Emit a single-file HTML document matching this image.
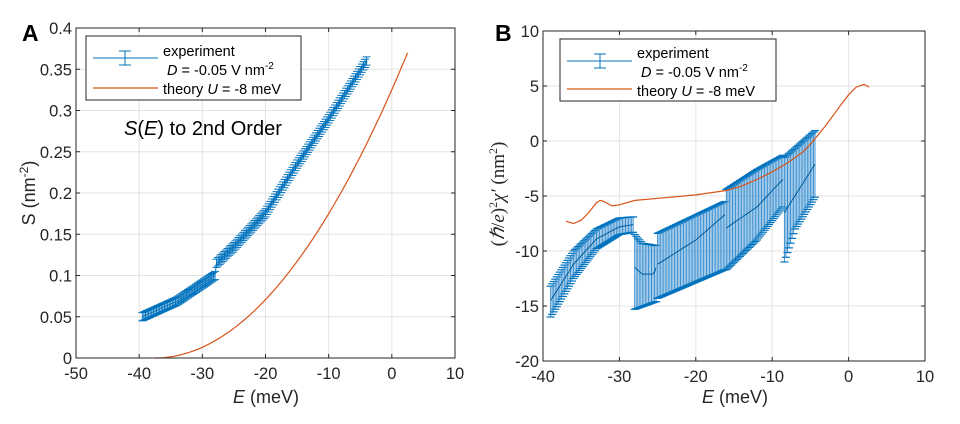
<!DOCTYPE html>
<html><head><meta charset="utf-8"><style>
body{margin:0;background:#fff}
svg{display:block;font-family:"Liberation Sans",sans-serif}
</style></head><body>
<svg id="s" width="960" height="424" xmlns="http://www.w3.org/2000/svg">
<rect width="960" height="424" fill="#fff"/>
<g id="A"></g><g id="B"></g>
</svg>
<script>
const NS="http://www.w3.org/2000/svg";
function el(p,t,a,txt){const e=document.createElementNS(NS,t);for(const k in a)e.setAttribute(k,a[k]);if(txt!==undefined)e.textContent=txt;p.appendChild(e);return e;}
function interp(pts,x){for(let i=0;i<pts.length-1;i++){if(x>=pts[i][0]&&x<=pts[i+1][0]){const t=(x-pts[i][0])/(pts[i+1][0]-pts[i][0]);return pts[i][1]+t*(pts[i+1][1]-pts[i][1]);}}return pts[pts.length-1][1];}
function axes(g,L,R,T,Bt,x0,x1,xs,y0,y1,ys){
 const X=v=>L+(v-x0)/(x1-x0)*(R-L), Y=v=>Bt-(v-y0)/(y1-y0)*(Bt-T);
 for(let v=x0;v<=x1+1e-9;v+=xs){el(g,'line',{x1:X(v),x2:X(v),y1:T,y2:Bt,stroke:'#e3e3e3','stroke-width':1});}
 for(let v=y0;v<=y1+1e-9;v+=ys){el(g,'line',{x1:L,x2:R,y1:Y(v),y2:Y(v),stroke:'#e3e3e3','stroke-width':1});}
 return {X,Y};
}
function frame(g,L,R,T,Bt,x0,x1,xs,y0,y1,ys,X,Y,fmt){
 el(g,'rect',{x:L,y:T,width:R-L,height:Bt-T,fill:'none',stroke:'#262626','stroke-width':1});
 for(let v=x0;v<=x1+1e-9;v+=xs){const x=X(v);el(g,'line',{x1:x,x2:x,y1:Bt,y2:Bt-4,stroke:'#262626'});el(g,'line',{x1:x,x2:x,y1:T,y2:T+4,stroke:'#262626'});
  el(g,'text',{x:x,y:Bt+21,'font-size':16.5,'text-anchor':'middle',fill:'#262626'},Math.round(v));}
 for(let v=y0;v<=y1+1e-9;v+=ys){const y=Y(v);el(g,'line',{x1:L,x2:L+4,y1:y,y2:y,stroke:'#262626'});el(g,'line',{x1:R,x2:R-4,y1:y,y2:y,stroke:'#262626'});
  el(g,'text',{x:L-4,y:y+6,'font-size':16.5,'text-anchor':'end',fill:'#262626'},fmt(v));}
}
function path(g,pts,X,Y,col,w){el(g,'path',{d:pts.map((p,i)=>(i?'L':'M')+X(p[0]).toFixed(1)+' '+Y(p[1]).toFixed(1)).join(''),fill:'none',stroke:col,'stroke-width':w});}
const BL='#0072BD',OR='#D95319';
(function(){
 const g=document.getElementById('A');
 const L=76,R=455,T=28,Bt=358;
 const {X,Y}=axes(g,L,R,T,Bt,-50,10,10,0,0.4,0.05);
 const th=[];for(let e=-37.5;e<=2.6;e+=0.5){th.push([e,0.37*Math.pow((e+37.5)/40,2.0)]);}
 path(g,th,X,Y,OR,1.2);
 const c1=[[-39.5,0.05],[-34,0.069],[-28,0.1]],c2=[[-28,0.113],[-25,0.135],[-20,0.176],[-15,0.235],[-10,0.29],[-7,0.325],[-4,0.36]];
 const ex=[];
 for(let e=-39.5;e<=-4;e+=0.25){const c=e<=-28?interp(c1,e):interp(c2,e);ex.push([e,c]);
  const er=0.005,cx=X(e);
  el(g,'line',{x1:cx,x2:cx,y1:Y(c-er),y2:Y(c+er),stroke:BL,'stroke-width':1});
  el(g,'line',{x1:cx-4,x2:cx+4,y1:Y(c-er),y2:Y(c-er),stroke:BL,'stroke-width':1});
  el(g,'line',{x1:cx-4,x2:cx+4,y1:Y(c+er),y2:Y(c+er),stroke:BL,'stroke-width':1});}
 path(g,ex,X,Y,BL,1);
 frame(g,L,R,T,Bt,-50,10,10,0,0.4,0.05,X,Y,v=>(+v.toFixed(2)).toString());
 el(g,'text',{x:22,y:41,'font-size':23,'font-weight':'bold',fill:'#000'},'A');
 el(g,'text',{x:266,y:403,'font-size':18,'text-anchor':'middle',fill:'#262626'},'').innerHTML='<tspan font-style="italic">E</tspan> (meV)';
 el(g,'text',{x:0,y:0,'font-size':18,'text-anchor':'middle',fill:'#262626',transform:'translate(35,193) rotate(-90)'},'').innerHTML='S (nm<tspan dy="-7" font-size="12">-2</tspan><tspan dy="7">)</tspan>';
 el(g,'text',{x:124,y:135,'font-size':20,fill:'#000'},'').innerHTML='<tspan font-style="italic">S</tspan>(<tspan font-style="italic">E</tspan>) to 2nd Order';
 el(g,'rect',{x:86,y:36,width:215,height:64,fill:'#fff',stroke:'#262626'});
 el(g,'line',{x1:93,x2:158,y1:58,y2:58,stroke:BL});el(g,'line',{x1:125,x2:125,y1:51,y2:65,stroke:BL});
 el(g,'line',{x1:119,x2:131,y1:51,y2:51,stroke:BL});el(g,'line',{x1:119,x2:131,y1:65,y2:65,stroke:BL});
 el(g,'line',{x1:93,x2:158,y1:88,y2:88,stroke:OR,'stroke-width':1.2});
 el(g,'text',{x:163,y:56,'font-size':14.5,fill:'#000'},'experiment');
 el(g,'text',{x:167,y:75,'font-size':14.5,fill:'#000'},'').innerHTML='<tspan font-style="italic">D</tspan> = -0.05 V nm<tspan dy="-6" font-size="10">-2</tspan>';
 el(g,'text',{x:163,y:94,'font-size':14.5,fill:'#000'},'').innerHTML='theory  <tspan font-style="italic">U</tspan> = -8 meV';
})();
(function(){
 const g=document.getElementById('B');
 const L=543,R=925,T=31,Bt=361;
 const {X,Y}=axes(g,L,R,T,Bt,-40,10,10,-20,10,5);
 const segs=[
  {a:-39,b:-28.2,up:[[-39,-13.2],[-36,-10],[-33,-8],[-30,-7],[-28.2,-6.9]],lo:[[-39,-16],[-36,-12.5],[-33,-9.8],[-30,-8.5],[-28.2,-8.3]],c:[[-39,-14.5],[-36,-11.2],[-33,-8.9],[-30,-7.8],[-28.2,-7.6]]},
  {a:-28,b:-25.2,up:[[-28,-8.5],[-27,-9.3],[-25.2,-9.5]],lo:[[-28,-15.3],[-25.2,-14.6]],c:[[-28,-11.5],[-27,-12.1],[-25.5,-12.1],[-25.2,-11.5]]},
  {a:-25,b:-16.2,up:[[-25,-8.4],[-16.2,-5.5]],lo:[[-25,-14.3],[-16.2,-11.7]],c:[[-25,-11.2],[-20,-9],[-16.2,-6.7]]},
  {a:-16,b:-8.6,up:[[-16,-4.4],[-12,-2.6],[-8.6,-1.3]],lo:[[-16,-11.7],[-12,-9],[-8.6,-6]],c:[[-16,-7.9],[-12,-6],[-10,-4.5],[-8.6,-3.5]]},
  {a:-8.4,b:-4.3,up:[[-8.4,-1.5],[-4.3,1]],lo:[[-8.4,-11],[-7,-8],[-4.3,-5]],c:[[-8.4,-6.5],[-4.3,-2]]}];
 for(const s of segs){const cl=[];
  for(let e=s.a;e<=s.b+1e-6;e+=0.2){const u=interp(s.up,e),l=interp(s.lo,e),cx=X(e);
   el(g,'line',{x1:cx,x2:cx,y1:Y(l),y2:Y(u),stroke:'#3a8fd0','stroke-width':1});
   el(g,'line',{x1:cx-4,x2:cx+4,y1:Y(l),y2:Y(l),stroke:BL,'stroke-width':1.2});
   el(g,'line',{x1:cx-4,x2:cx+4,y1:Y(u),y2:Y(u),stroke:BL,'stroke-width':1.2});}
  for(let e=s.a;e<=s.b+1e-6;e+=0.2)cl.push([e,interp(s.c,e)]);
  path(g,cl,X,Y,'#005a9a',1);}
 const th=[[-37,-7.3],[-36,-7.5],[-35,-7.2],[-34,-6.5],[-33,-5.6],[-32.5,-5.4],[-32,-5.5],[-31,-5.9],[-30,-5.8],[-28,-5.4],[-24,-5.15],[-20,-4.9],[-16,-4.5],[-14,-4.1],[-12,-3.5],[-10,-2.8],[-8,-2],[-6,-1],[-5,-0.3],[-3,1.4],[-1,3.3],[0,4.2],[1,4.9],[2,5.15],[2.7,4.9]];
 path(g,th,X,Y,OR,1.2);
 frame(g,L,R,T,Bt,-40,10,10,-20,10,5,X,Y,v=>String(Math.round(v)));
 el(g,'text',{x:495,y:41,'font-size':23,'font-weight':'bold',fill:'#000'},'B');
 el(g,'text',{x:735,y:403,'font-size':18,'text-anchor':'middle',fill:'#262626'},'').innerHTML='<tspan font-style="italic">E</tspan> (meV)';
 el(g,'text',{x:0,y:0,'font-size':19,'text-anchor':'middle',fill:'#262626','font-family':'Liberation Serif, serif',transform:'translate(504,194) rotate(-90)'},'').innerHTML='(<tspan font-style="italic">ℏ</tspan>/<tspan font-style="italic">e</tspan>)<tspan dy="-7" font-size="12">2</tspan><tspan dy="7" font-style="italic">χ′</tspan> (nm<tspan dy="-7" font-size="12">2</tspan><tspan dy="7">)</tspan>';
 el(g,'rect',{x:560,y:39,width:216,height:62,fill:'#fff',stroke:'#262626'});
 el(g,'line',{x1:567,x2:632,y1:61,y2:61,stroke:BL});el(g,'line',{x1:600,x2:600,y1:54,y2:68,stroke:BL});
 el(g,'line',{x1:594,x2:606,y1:54,y2:54,stroke:BL});el(g,'line',{x1:594,x2:606,y1:68,y2:68,stroke:BL});
 el(g,'line',{x1:567,x2:632,y1:89,y2:89,stroke:OR,'stroke-width':1.2});
 el(g,'text',{x:637,y:58,'font-size':14.5,fill:'#000'},'experiment');
 el(g,'text',{x:641,y:77,'font-size':14.5,fill:'#000'},'').innerHTML='<tspan font-style="italic">D</tspan> = -0.05 V nm<tspan dy="-6" font-size="10">-2</tspan>';
 el(g,'text',{x:637,y:96,'font-size':14.5,fill:'#000'},'').innerHTML='theory  <tspan font-style="italic">U</tspan> = -8 meV';
})();
</script>
</body></html>
